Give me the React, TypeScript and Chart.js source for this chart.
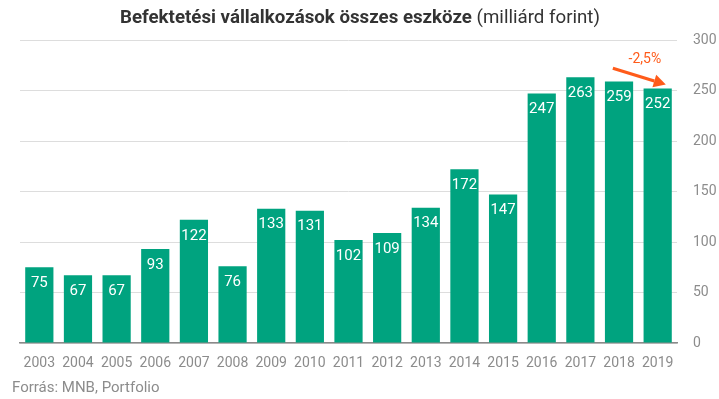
import React, { useEffect, useRef } from "react";
import { Chart, registerables } from "chart.js";

Chart.register(...registerables);

const categories = ["2003","2004","2005","2006","2007","2008","2009","2010","2011","2012","2013","2014","2015","2016","2017","2018","2019"];
const values = [75, 67, 67, 93, 122, 76, 133, 131, 102, 109, 134, 172, 147, 247, 263, 259, 252];
const yTicks = [0, 50, 100, 150, 200, 250, 300];
const titleBold = "Befektetési vállalkozások összes eszköze";
const titleNormal = " (milliárd forint)";
const sourceText = "Forrás: MNB, Portfolio";
const changeLabel = "-2,5%";
// arrow annotation in data units: [categoryIndex, value]
const arrowFrom = [14.84, 272];
const arrowTo = [16.21, 256];
const changeLabelAt = [15.67, 281];

const GREEN = "#00a37f";
const ORANGE = "#ff5b1a";
const GREY = "#8c8c8c";
const FONT = "Roboto";

export default function App() {
  const ref = useRef<HTMLCanvasElement>(null);
  useEffect(() => {
    const canvas = ref.current!;
    const overlay = {
      id: "overlay",
      afterDatasetsDraw(chart: any) {
        const ctx = chart.ctx;
        const meta = chart.getDatasetMeta(0);
        ctx.save();
        ctx.fillStyle = "#ffffff";
        ctx.font = `15px ${FONT}`;
        ctx.textAlign = "center";
        ctx.textBaseline = "middle";
        meta.data.forEach((bar: any, i: number) => {
          ctx.fillText(String(values[i]), bar.x, bar.y + 16);
        });
        ctx.restore();
      },
      afterDraw(chart: any) {
        const ctx = chart.ctx;
        const xs = chart.scales.x;
        const ys = chart.scales.y;
        ctx.save();
        // title
        const tf = 18.7;
        ctx.font = `bold ${tf}px ${FONT}`;
        const wb = ctx.measureText(titleBold).width;
        ctx.font = `${tf}px ${FONT}`;
        const wn = ctx.measureText(titleNormal).width;
        const start = 360 - (wb + wn) / 2;
        ctx.textBaseline = "middle";
        ctx.textAlign = "left";
        ctx.fillStyle = "#333333";
        ctx.font = `bold ${tf}px ${FONT}`;
        ctx.fillText(titleBold, start, 18);
        ctx.font = `${tf}px ${FONT}`;
        ctx.fillText(titleNormal, start + wb, 18);
        // source
        ctx.font = `15px ${FONT}`;
        ctx.fillStyle = GREY;
        ctx.fillText(sourceText, 12, 388);
        // arrow
        const x1 = xs.getPixelForValue(arrowFrom[0]);
        const y1 = ys.getPixelForValue(arrowFrom[1]);
        const x2 = xs.getPixelForValue(arrowTo[0]);
        const y2 = ys.getPixelForValue(arrowTo[1]);
        const ang = Math.atan2(y2 - y1, x2 - x1);
        const head = 12;
        const bx = x2 - head * Math.cos(ang);
        const by = y2 - head * Math.sin(ang);
        ctx.strokeStyle = ORANGE;
        ctx.fillStyle = ORANGE;
        ctx.lineWidth = 3.2;
        ctx.beginPath();
        ctx.moveTo(x1, y1);
        ctx.lineTo(bx, by);
        ctx.stroke();
        ctx.beginPath();
        ctx.moveTo(x2, y2);
        ctx.lineTo(bx + 6.5 * Math.sin(ang), by - 6.5 * Math.cos(ang));
        ctx.lineTo(bx - 6.5 * Math.sin(ang), by + 6.5 * Math.cos(ang));
        ctx.closePath();
        ctx.fill();
        ctx.font = `14px ${FONT}`;
        ctx.textAlign = "center";
        ctx.fillText(changeLabel, xs.getPixelForValue(changeLabelAt[0]), ys.getPixelForValue(changeLabelAt[1]));
        ctx.restore();
      },
    };
    const chart = new Chart(canvas, {
      type: "bar",
      data: {
        labels: categories,
        datasets: [{ data: values, backgroundColor: GREEN, barPercentage: 0.73, categoryPercentage: 1 }],
      },
      options: {
        responsive: false,
        animation: false,
        layout: { padding: { left: 20, top: 40, right: 0, bottom: 0 } },
        plugins: { legend: { display: false }, tooltip: { enabled: false }, title: { display: false } },
        scales: {
          x: {
            grid: { display: false, drawTicks: false },
            border: { display: true, color: "#8a8a8a", width: 1.5 },
            ticks: { color: GREY, font: { family: FONT, size: 14 }, padding: 12, maxRotation: 0, autoSkip: false },
            afterFit: (s: any) => { s.height = 56; },
          },
          y: {
            position: "right",
            min: 0,
            max: 300,
            afterBuildTicks: (s: any) => { s.ticks = yTicks.map((v) => ({ value: v })); },
            grid: { color: "#dddddd", drawTicks: false },
            border: { display: false },
            ticks: { color: GREY, font: { family: FONT, size: 14 }, padding: 16 },
            afterFit: (s: any) => { s.width = 42; },
          },
        },
      },
      plugins: [overlay],
    });
    return () => chart.destroy();
  }, []);
  return (
    <div style={{ position: "absolute", left: 0, top: 0, width: 719, height: 399, background: "#fff" }}>
      <canvas ref={ref} width={719} height={399} />
    </div>
  );
}
